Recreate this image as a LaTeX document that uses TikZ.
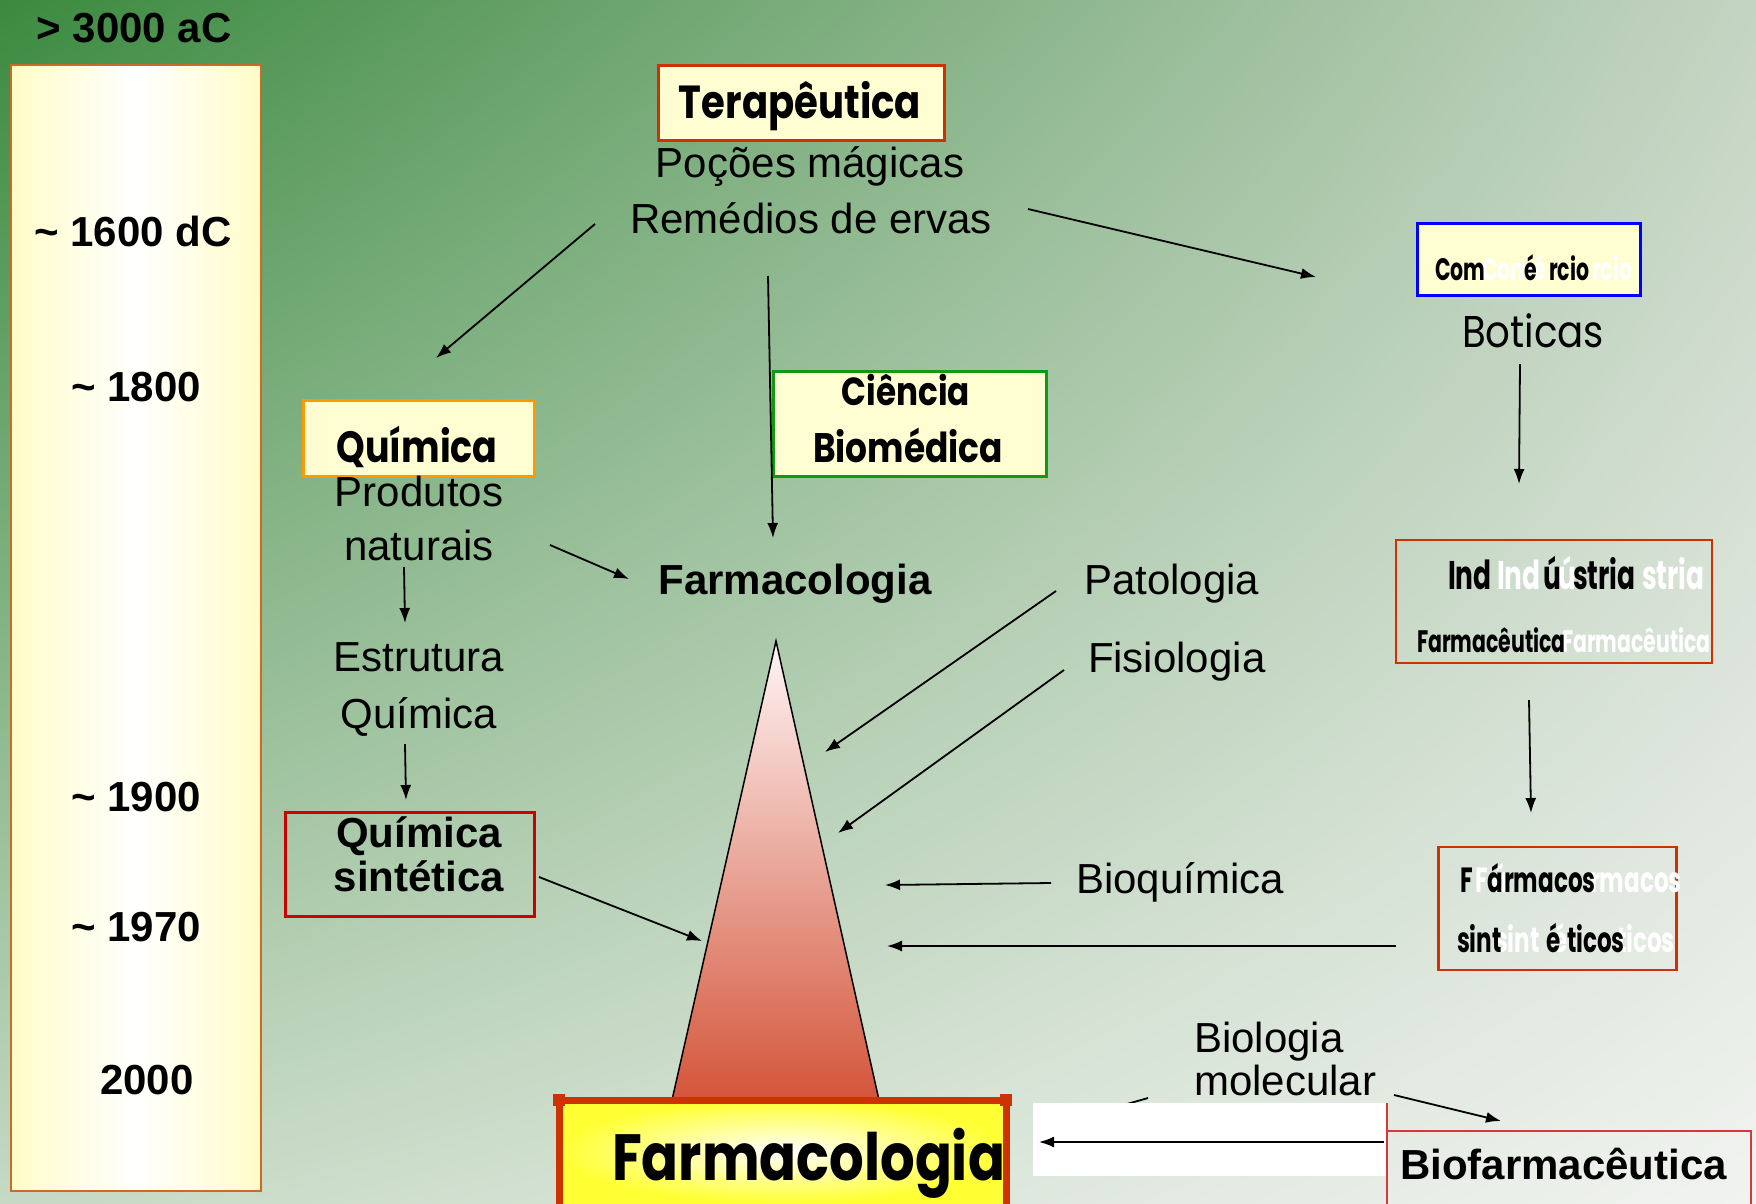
\documentclass[tikz,border=0pt]{standalone}
\usepackage{fontspec}
\setmainfont{Liberation Sans}
\newfontfamily\comic{Poppins}
\newfontfamily\ghostf{Poppins}[FakeStretch=0.66]
\usetikzlibrary{arrows.meta,shadings}
\definecolor{bgTL}{HTML}{3B8A3F}
\definecolor{bgTR}{HTML}{C4D4C2}
\definecolor{bgBL}{HTML}{C6D9C4}
\definecolor{bgBR}{HTML}{F1F3F0}
\definecolor{lyel}{HTML}{FFFCC8}
\definecolor{boxyel}{HTML}{FFFDD2}
\definecolor{tlborder}{HTML}{CC6A2A}
\definecolor{redor}{HTML}{CC3300}
\definecolor{qorange}{HTML}{FF9900}
\definecolor{cgreen}{HTML}{119911}
\definecolor{qred}{HTML}{CC0000}
\definecolor{trired}{HTML}{D4553A}
\definecolor{bigyel}{HTML}{FFFF33}
\definecolor{bred}{HTML}{D43A3A}
\newcommand\fsz[1]{\fontsize{#1}{#1}\selectfont}
\newcommand\cmc[2]{\scalebox{1}[1.2]{\resizebox{#1}{!}{\comic\bfseries #2}}}
\begin{document}
\begin{tikzpicture}[x=1pt,y=-1pt,
  txt/.style={inner sep=0pt, outer sep=0pt, anchor=base},
  txtw/.style={inner sep=0pt, outer sep=0pt, anchor=base west},
  tl/.style={txt, font=\fsz{42}\bfseries},
  reg/.style={txt, font=\fsz{42}},
  regw/.style={txtw, font=\fsz{42}},
  gb/.style={txtw, text=black},
  gw/.style={txtw, text=white},
  arr/.style={-{Latex[length=15pt,width=11pt]}, line width=1.8pt},
  box/.style={inner sep=0pt, outer sep=0pt}]
\useasboundingbox (0,0) rectangle (1756,1203);
% background
\shade[upper left=bgTL, upper right=bgTR, lower left=bgBL, lower right=bgBR] (0,0) rectangle (1756,1203);
% timeline
\shade[left color=lyel, right color=lyel, middle color=white] (11,65) rectangle (261,1191);
\draw[tlborder, line width=2pt] (11,65) rectangle (261,1191);
\node[tl] (t3000) at (134,42) {> 3000 aC};
\node[tl] (t1600) at (133,246) {\textasciitilde\ 1600 dC};
\node[tl] (t1800) at (136,401) {\textasciitilde\ 1800};
\node[tl] (t1900) at (136,811) {\textasciitilde\ 1900};
\node[tl] (t1970) at (136,941) {\textasciitilde\ 1970};
\node[tl] (t2000) at (147,1094) {2000};
% triangle
\shade[top color=white!96!red, bottom color=trired] (776,641) -- (879,1100) -- (672,1100) -- cycle;
\draw[line width=1.5pt] (672,1100) -- (776,641) -- (879,1100);
\coordinate (apex) at (776,641);
% Terapeutica
\node[box, draw=redor, line width=3pt, fill=boxyel, minimum width=286, minimum height=75] (terbox) at (801.5,102.5) {};
\node[txt] (terap) at (800,118) {\cmc{242pt}{Terapêutica}};
\node[reg] (pocoes) at (810,177) {Poções mágicas};
\node[reg] (remedios) at (811,233) {Remédios de ervas};
% Comercio box
\node[box, draw=blue, line width=3pt, fill=boxyel, minimum width=223, minimum height=72] (combox) at (1529,259.5) {};
\begin{scope}[font=\ghostf\bfseries\fsz{31}]
\node[gw] (cw1) at (1482,280) {Com};
\node[gw] (cw2) at (1533,280) {é};
\node[gw] (cw3) at (1592,280) {rcio};
\node[gb] (cb1) at (1435,280) {Com};
\node[gb] (cb2) at (1524,280) {é};
\node[gb] (cb3) at (1549,280) {rcio};
\end{scope}
\node[txt] (boticas) at (1533,347) {\scalebox{1}[1.15]{\resizebox{142pt}{!}{\comic Boticas}}};
% Quimica top
\node[box, draw=qorange, line width=3pt, fill=boxyel, minimum width=231, minimum height=76] (qbox) at (419,438.5) {};
\node[txt] (quim) at (417,462) {\cmc{161pt}{Química}};
\node[reg] (produtos) at (419,506) {Produtos};
\node[reg] (naturais) at (419,560) {naturais};
% Ciencia biomedica
\node[box, draw=cgreen, line width=3pt, fill=boxyel, minimum width=273, minimum height=105] (cbox) at (910,424) {};
\node[txt] (ciencia) at (906,405) {\cmc{128pt}{Ciência}};
\node[txt] (biomed) at (908,462) {\cmc{190pt}{Biomédica}};
% Farmacologia mid
\node[txt, font=\fsz{42}\bfseries] (farmmid) at (795,594) {Farmacologia};
% Estrutura quimica
\node[reg] (estrut) at (419,671) {Estrutura};
\node[reg] (quim2) at (419,728) {Química};
% Quimica sintetica
\node[box, draw=qred, line width=3pt, minimum width=249, minimum height=104] (qsbox) at (410,864.5) {};
\node[txt, font=\fsz{42}\bfseries] (qs1) at (419,847) {Química};
\node[txt, font=\fsz{42}\bfseries] (qs2) at (419,891) {sintética};
% right column labels
\node[regw] (patol) at (1084,594) {Patologia};
\node[regw] (fisio) at (1088,672) {Fisiologia};
\node[regw] (bioq) at (1076,893) {Bioquímica};
\node[regw] (biol1) at (1194,1052) {Biologia};
\node[regw] (biol2) at (1194,1095) {molecular};
% Industria box
\node[box, draw=redor, line width=2.5pt, minimum width=316, minimum height=123] (indbox) at (1554,601.5) {};
\node[gw, font=\ghostf\bfseries\fsz{40}] (iw1) at (1497,589) {Ind};
\node[gw, font=\ghostf\bfseries\fsz{40}] (iw2) at (1558,589) {ú};
\node[gw, font=\ghostf\bfseries\fsz{40}] (iw3) at (1642,589) {stria};
\node[gb, font=\ghostf\bfseries\fsz{40}] (ib1) at (1448,589) {Ind};
\node[gb, font=\ghostf\bfseries\fsz{40}] (ib2) at (1543,589) {ú};
\node[gb, font=\ghostf\bfseries\fsz{40}] (ib3) at (1573,589) {stria};
\node[gw, font=\ghostf\bfseries\fsz{31}] (iw4) at (1562,652) {Farmacêutica};
\node[gb, font=\ghostf\bfseries\fsz{31}] (ib4) at (1417,652) {Farmacêutica};
% Farmacos box
\node[box, draw=redor, line width=2.5pt, minimum width=238, minimum height=123] (fbox) at (1557.5,908.5) {};
\begin{scope}[font=\ghostf\bfseries\fsz{35}]
\node[gw] (fw1) at (1475,892) {F};
\node[gw] (fw2) at (1492,892) {á};
\node[gw] (fw3) at (1590,892) {rmacos};
\node[gb] (fb1) at (1460,892) {F};
\node[gb] (fb2) at (1487,892) {á};
\node[gb] (fb3) at (1504,892) {rmacos};
\node[gw] (fw4) at (1495,952) {sint};
\node[gw] (fw5) at (1553,952) {é};
\node[gw] (fw6) at (1617,952) {ticos};
\node[gb] (fb4) at (1457,952) {sint};
\node[gb] (fb5) at (1546,952) {é};
\node[gb] (fb6) at (1567,952) {ticos};
\end{scope}
% coordinates for arrows
\coordinate (a1s) at (595,224); \coordinate (a1e) at (436,358);
\coordinate (a2s) at (768,276); \coordinate (a2e) at (773,538);
\coordinate (a3s) at (1028,209); \coordinate (a3e) at (1316,277);
\coordinate (a4s) at (1520,364); \coordinate (a4e) at (1519,484);
\coordinate (a5s) at (550,545); \coordinate (a5e) at (629,579);
\coordinate (a6s) at (404,567); \coordinate (a6e) at (405,623);
\coordinate (a7s) at (405,744); \coordinate (a7e) at (406,800);
\coordinate (a8s) at (539,877); \coordinate (a8e) at (702,941);
\coordinate (a9s) at (1056,591); \coordinate (a9e) at (825,752);
\coordinate (a10s) at (1064,670); \coordinate (a10e) at (838,833);
\coordinate (a11s) at (1051,883); \coordinate (a11e) at (885,885);
\coordinate (a12s) at (1396,946); \coordinate (a12e) at (887,946);
\coordinate (a13s) at (1529,700); \coordinate (a13e) at (1531,813);
\coordinate (a14s) at (1394,1095); \coordinate (a14e) at (1501,1121);
\coordinate (a15s) at (1148,1098); \coordinate (a15e) at (1120,1106);
\coordinate (a16s) at (1384,1142); \coordinate (a16e) at (1039,1142);
\draw[arr] (a1s) -- (a1e);
\draw[arr] (a2s) -- (a2e);
\draw[arr] (a3s) -- (a3e);
\draw[arr] (a4s) -- (a4e);
\draw[arr] (a5s) -- (a5e);
\draw[arr] (a6s) -- (a6e);
\draw[arr] (a7s) -- (a7e);
\draw[arr] (a8s) -- (a8e);
\draw[arr] (a9s) -- (a9e);
\draw[arr] (a10s) -- (a10e);
\draw[arr] (a11s) -- (a11e);
\draw[arr] (a12s) -- (a12e);
\draw[arr] (a13s) -- (a13e);
\draw[arr] (a14s) -- (a14e);
\draw[line width=1.8pt] (a15s) -- (a15e);
% Farmacologia big box
\shade[inner color=white, outer color=bigyel] (559,1100) rectangle (1006,1203);
\draw[redor, line width=7pt] (559,1210) -- (559,1100) -- (1006,1100) -- (1006,1210);
\fill[redor] (553,1094) rectangle (565,1106);
\fill[redor] (1000,1094) rectangle (1012,1106);
\begin{scope}
\clip (562,1103) rectangle (1003,1203);
\node[txtw] (farmbig) at (612,1180) {\cmc{393pt}{Farmacologia}};
\end{scope}
% white rect and arrow
\fill[white] (1033,1103) rectangle (1387,1176);
\draw[arr] (a16s) -- (a16e);
% Biofarmaceutica
\draw[bred, line width=1.5pt] (1387,1103) -- (1387,1210);
\draw[bred, line width=1.5pt] (1387,1131) -- (1751,1131) -- (1751,1210);
\node[regw, font=\fsz{42}\bfseries] (biofarm) at (1400,1179) {Biofarmacêutica};
\end{tikzpicture}
\end{document}
